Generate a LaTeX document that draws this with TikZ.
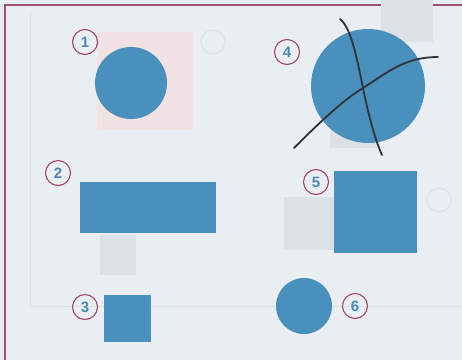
\documentclass[tikz,border=0pt]{standalone}
\usepackage{fontspec}
\setmainfont{Liberation Sans}
\definecolor{paper}{HTML}{E9EEF3}
\definecolor{shape}{HTML}{4A90BC}
\definecolor{ring}{HTML}{A3475F}
\definecolor{digit}{HTML}{4A88B4}
\definecolor{frame}{HTML}{A05070}
\definecolor{ghost}{HTML}{DCE1E6}
\definecolor{ghostpink}{HTML}{F1E2E4}
\definecolor{pen}{HTML}{303338}
\tikzset{
  numlabel/.style={circle,draw=ring,line width=1.1pt,minimum size=25pt,inner sep=0pt,
    text=digit,font=\fontsize{15}{15}\selectfont\bfseries},
  ghostlabel/.style={circle,draw=ghost,line width=1pt,minimum size=24pt,inner sep=0pt},
  solid shape/.style={fill=shape,draw=none},
  ghost shape/.style={fill=ghost,draw=none},
  penline/.style={draw=pen,line width=1.8pt,line cap=round}
}
\begin{document}
\begin{tikzpicture}[x=1pt,y=-1pt]
\useasboundingbox (0,0) rectangle (462,360);
\fill[paper] (0,0) rectangle (462,360);
% faint inner frame
\draw[ghost,line width=1pt] (30,12) -- (30,306) -- (462,306);
% border
\draw[frame,line width=1.4pt] (5,360) -- (5,5) -- (462,5);
% ghost shapes
\fill[ghostpink] (97,32) rectangle (193,130);
\fill[ghost] (381,0) rectangle (433,42);
\fill[ghost] (330,130) rectangle (380,148);
\fill[ghost] (100,235) rectangle (136,275);
\fill[ghost] (284,197) rectangle (334,250);
\node[ghostlabel] (g1) at (213,42) {};
\node[ghostlabel] (g2) at (439,200) {};
% shapes
\node[solid shape,circle,minimum size=72pt,inner sep=0pt] (s1) at (131,83) {};
\node[solid shape,circle,minimum size=114pt,inner sep=0pt] (s4) at (368,86) {};
\node[solid shape,rectangle,minimum width=136pt,minimum height=51pt,inner sep=0pt] (s2) at (148,207.5) {};
\node[solid shape,rectangle,minimum width=47pt,minimum height=47pt,inner sep=0pt] (s3) at (127.5,318.5) {};
\node[solid shape,rectangle,minimum width=83pt,minimum height=82pt,inner sep=0pt] (s5) at (375.5,212) {};
\node[solid shape,circle,minimum size=56pt,inner sep=0pt] (s6) at (304,306) {};
% labels
\node[numlabel] (n1) at (85,42) {1};
\node[numlabel] (n2) at (58,173) {2};
\node[numlabel] (n3) at (85,307) {3};
\node[numlabel] (n4) at (287,52) {4};
\node[numlabel] (n5) at (316,182) {5};
\node[numlabel] (n6) at (355,306) {6};
% crossing strokes
\coordinate (xc) at (363,88);
\draw[penline] (340,19) .. controls (352,28) and (358,65) .. (xc) .. controls (369,118) and (376,142) .. (382,155);
\draw[penline] (294,148) .. controls (318,124) and (343,100) .. (xc) .. controls (388,72) and (405,57) .. (438,57);
\end{tikzpicture}
\end{document}
